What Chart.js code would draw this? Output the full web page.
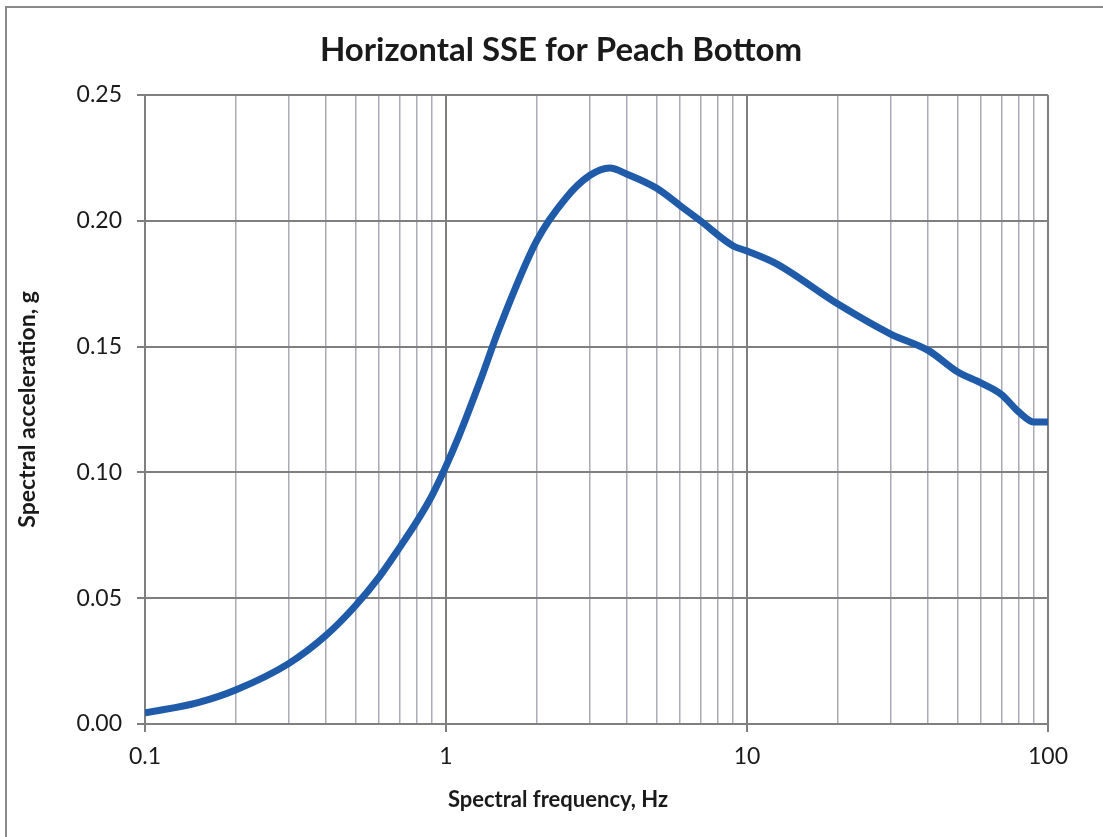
<!DOCTYPE html>
<html>
<head>
<meta charset="utf-8">
<script src="https://cdn.jsdelivr.net/npm/chart.js@4"></script>
<style>
  html, body { margin: 0; padding: 0; background: #fff; overflow: hidden; }
  #marco { position: relative; width: 1103px; height: 837px; overflow: hidden; }
  #borde { position: absolute; left: 5px; top: 6px; width: 1200px; height: 900px;
           border-left: 2px solid #8a8a8a; border-top: 2px solid #8a8a8a; pointer-events: none; }
  canvas { display: block; }
</style>
</head>
<body>
<div id="marco">
  <canvas id="grafico" width="1103" height="837"></canvas>
  <div id="borde"></div>
</div>
<script>
// datos
const frecuencias = [0.1, 0.15, 0.2, 0.3, 0.4, 0.5, 0.6, 0.7, 0.8, 0.9, 1.0, 1.1, 1.3, 1.5, 2.0, 2.5, 3.0, 3.5, 4.0, 5.0, 6.0, 7.0, 9.0, 10, 12.5, 20, 30, 40, 50, 60, 70, 80, 90, 100];
const aceleraciones = [0.0044, 0.0085, 0.0135, 0.024, 0.0353, 0.047, 0.0585, 0.070, 0.0805, 0.091, 0.1025, 0.114, 0.1365, 0.157, 0.192, 0.209, 0.218, 0.221, 0.2185, 0.213, 0.206, 0.200, 0.190, 0.188, 0.183, 0.167, 0.155, 0.1485, 0.140, 0.1355, 0.131, 0.124, 0.120, 0.120];
const etiquetasX = [0.1, 1, 10, 100];
const etiquetasY = [0, 0.05, 0.10, 0.15, 0.20, 0.25];

const titulo = 'Horizontal SSE for Peach Bottom';
const tituloX = 'Spectral frequency, Hz';
const tituloY = 'Spectral acceleration, g';

// ticks del eje log: 1..9 por decada
const ticksX = [];
for (const d of [0.1, 1, 10]) {
  for (let k = 1; k <= 9; k++) ticksX.push(d * k);
}
ticksX.push(100);

const gris = '#7f7f7f';
const grisClaro = '#a9abb6';
const fuente = 'Lato, "Open Sans", sans-serif';

const textos = {
  id: 'textos',
  afterDraw(chart) {
    const ctx = chart.ctx;
    ctx.save();
    ctx.fillStyle = '#1a1a1a';
    ctx.textAlign = 'center';
    ctx.textBaseline = 'middle';
    ctx.font = 'bold 33px ' + fuente;
    ctx.fillText(titulo, 561, 50);
    ctx.font = 'bold 22px ' + fuente;
    ctx.fillText(tituloX, 558, 800);
    ctx.restore();
  }
};

new Chart(document.getElementById('grafico'), {
  type: 'line',
  data: {
    datasets: [{
      data: frecuencias.map((f, i) => ({ x: f, y: aceleraciones[i] })),
      borderColor: '#1f5ba8',
      borderWidth: 7,
      pointRadius: 0,
      cubicInterpolationMode: 'monotone',
      fill: false
    }]
  },
  options: {
    responsive: false,
    animation: false,
    layout: { padding: { top: 95, right: 55, bottom: 0, left: 0 } },
    plugins: {
      legend: { display: false },
      tooltip: { enabled: false }
    },
    scales: {
      x: {
        type: 'logarithmic',
        min: 0.1,
        max: 100,
        afterBuildTicks: s => { s.ticks = ticksX.map(v => ({ value: v })); },
        afterFit: s => { s.height = 113; },
        ticks: {
          autoSkip: false,
          maxRotation: 0,
          padding: 11,
          color: '#1a1a1a',
          font: { family: fuente, size: 23 },
          callback: v => etiquetasX.includes(v) ? String(v) : ''
        },
        grid: {
          tickLength: 8,
          color: c => (c.tick && etiquetasX.includes(c.tick.value)) ? gris : grisClaro,
          lineWidth: c => (c.tick && etiquetasX.includes(c.tick.value)) ? 2 : 1.5,
          tickColor: c => (c.tick && etiquetasX.includes(c.tick.value)) ? gris : 'rgba(0,0,0,0)'
        },
        border: { color: gris, width: 2 }
      },
      y: {
        min: 0,
        max: 0.25,
        afterBuildTicks: s => { s.ticks = etiquetasY.map(v => ({ value: v })); },
        afterFit: s => { s.width = 145; },
        ticks: {
          padding: 15,
          color: '#1a1a1a',
          font: { family: fuente, size: 23 },
          callback: v => v.toFixed(2)
        },
        grid: { tickLength: 8, color: gris, lineWidth: 2, tickColor: gris },
        border: { color: gris, width: 2 },
        title: {
          display: true,
          text: tituloY,
          color: '#1a1a1a',
          padding: { top: 14, bottom: 0 },
          font: { family: fuente, size: 23, weight: 'bold' }
        }
      }
    }
  },
  plugins: [textos]
});
</script>
</body>
</html>
